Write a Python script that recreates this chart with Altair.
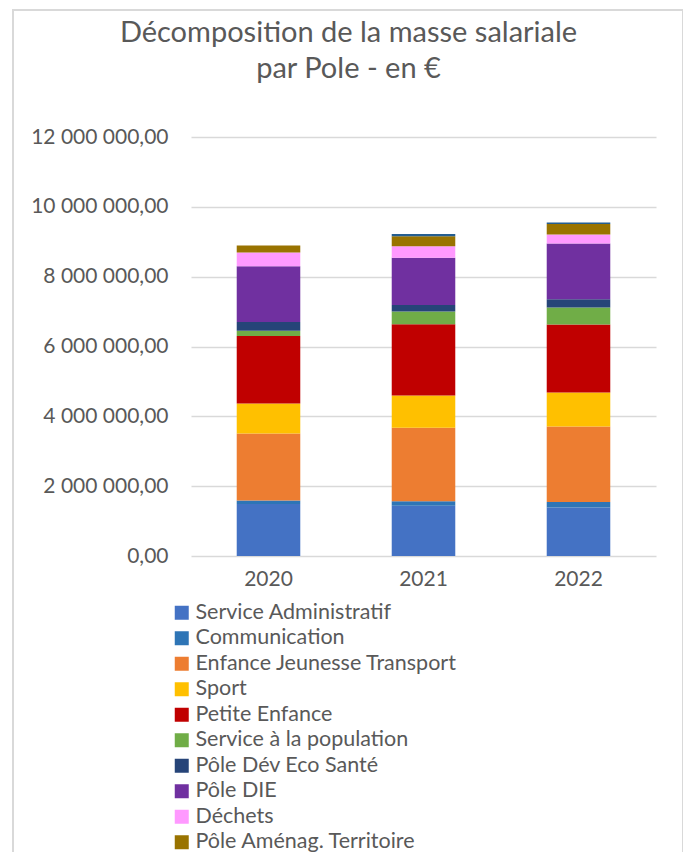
import altair as alt
import pandas as pd

years = ["2020", "2021", "2022"]
poles = [
    "Service Administratif",
    "Communication",
    "Enfance Jeunesse Transport",
    "Sport",
    "Petite Enfance",
    "Service à la population",
    "Pôle Dév Eco Santé",
    "Pôle DIE",
    "Déchets",
    "Pôle Aménag. Territoire",
    "Autres",
]
colors = ["#4472C4", "#2E75B6", "#ED7D31", "#FFC000", "#C00000", "#70AD47",
          "#264478", "#7030A0", "#FF99FF", "#997300", "#255E91"]

v2020 = [1490000, 100000, 1920000, 860000, 1930000, 150000, 250000, 1600000, 390000, 200000, 0]
v2021 = [1440000, 130000, 2100000, 930000, 2040000, 360000, 190000, 1350000, 330000, 290000, 60000]
v2022 = [1390000, 160000, 2160000, 970000, 1950000, 490000, 230000, 1600000, 260000, 300000, 40000]

rows = []
for y, vals in zip(years, [v2020, v2021, v2022]):
    for i, (p, v) in enumerate(zip(poles, vals)):
        rows.append({"Année": y, "Pole": p, "Montant": v, "idx": i})
df = pd.DataFrame(rows)

FONT = "Lato"
GREY = "#595959"

bars = alt.Chart(df).mark_bar().encode(
    x=alt.X("Année:N",
            scale=alt.Scale(paddingInner=0.59, paddingOuter=0.295),
            axis=alt.Axis(title=None, labelAngle=0, ticks=False, domain=False,
                          labelFontSize=21, labelColor=GREY, labelFont=FONT,
                          labelPadding=12, grid=False)),
    y=alt.Y("Montant:Q", stack="zero",
            scale=alt.Scale(domain=[0, 12000000], nice=False),
            axis=alt.Axis(title=None, values=[0, 2000000, 4000000, 6000000, 8000000, 10000000, 12000000],
                          format=",.2f", ticks=False, domain=False,
                          labelFontSize=21, labelColor=GREY, labelFont=FONT,
                          labelPadding=23, gridColor="#D9D9D9", gridWidth=1.5)),
    color=alt.Color("Pole:N",
                    scale=alt.Scale(domain=poles, range=colors),
                    legend=alt.Legend(title=None, orient="none", legendX=-20, legendY=465,
                                      direction="vertical", symbolType="square",
                                      symbolSize=196, symbolStrokeWidth=0,
                                      labelFontSize=21.5, labelColor=GREY, labelFont=FONT,
                                      labelOffset=3, rowPadding=2.5, values=poles[:10],
                                      labelLimit=400)),
    order=alt.Order("idx:Q", sort="ascending"),
)

frame = alt.Chart(pd.DataFrame({"f": [0]})).mark_rect(
    fill=None, stroke="#D9D9D9", strokeWidth=2
).encode(x=alt.value(-178), x2=alt.value(492), y=alt.value(-127), y2=alt.value(800))

chart = alt.layer(frame, bars).properties(
    width=465, height=419,
    padding={"left": 183, "top": 129, "right": 27, "bottom": 330},
    autosize=alt.AutoSizeParams(type="none"),
    title=alt.TitleParams(["Décomposition de la masse salariale", "par Pole - en €"],
                          fontSize=29, font=FONT, fontWeight="normal", color=GREY,
                          anchor="middle", dx=-75, offset=-75, lineHeight=36),
).configure(
    locale={"number": {"decimal": ",", "thousands": " ", "grouping": [3], "currency": ["", " €"]}}
).configure_view(stroke=None)

chart.save("out.html", embed_options={"renderer": "svg", "actions": False})
